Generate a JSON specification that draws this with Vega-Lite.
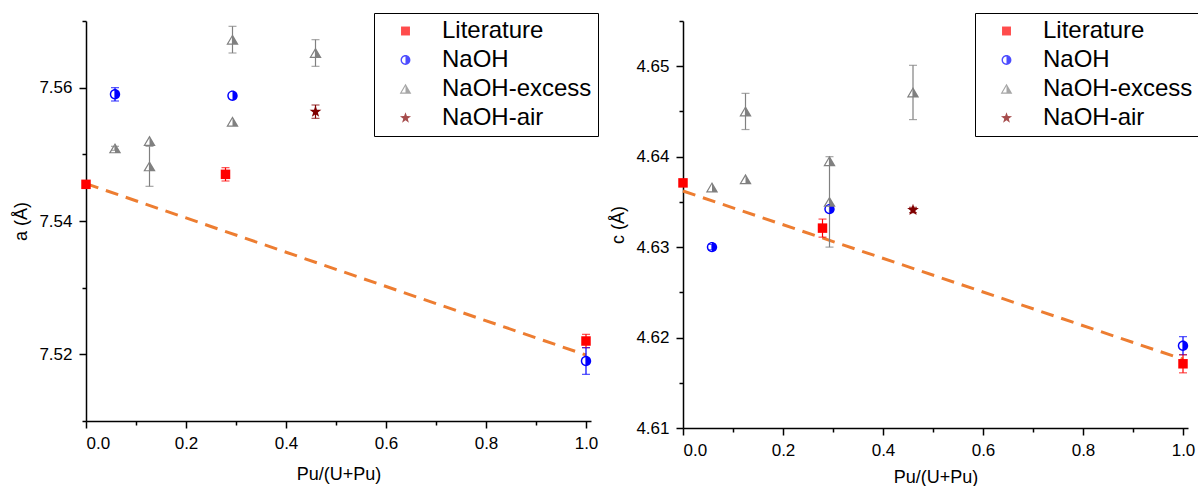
{
  "$schema": "https://vega.github.io/schema/vega-lite/v6.json",
  "padding": {"left": 12, "top": 12, "right": 0, "bottom": 0},
  "autosize": {"type": "pad"},
  "bounds": "flush",
  "spacing": 92,
  "background": "white",
  "config": {
    "view": {"stroke": null},
    "font": "Liberation Sans",
    "axis": {
      "domainColor": "black", "tickColor": "black", "domainWidth": 1.5, "tickWidth": 1.5,
      "labelColor": "black", "titleColor": "black", "labelFont": "Liberation Sans", "titleFont": "Liberation Sans",
      "labelFontSize": 17, "titleFontSize": 18, "titleFontWeight": "normal", "grid": false,
      "labelPadding": 7, "titlePadding": 8
    },
    "axisX": {"titlePadding": 14},
    "legend": {
      "strokeColor": "black", "strokeWidth": 1, "padding": 6, "fillColor": "white",
      "labelFont": "Liberation Sans", "labelFontSize": 24, "labelColor": "black",
      "symbolSize": 80, "symbolStrokeWidth": 0, "rowPadding": 5, "symbolOffset": 13.5, "labelOffset": 24.5
    }
  },
  "datasets": {
    "a": [
      {"series": "Literature", "x": 0, "y": 7.5455, "err": 0},
      {"series": "Literature", "x": 0.279, "y": 7.547, "err": 0.001},
      {"series": "Literature", "x": 1.0, "y": 7.522, "err": 0.001},
      {"series": "NaOH", "x": 0.058, "y": 7.559, "err": 0.001},
      {"series": "NaOH", "x": 0.293, "y": 7.5588, "err": 0},
      {"series": "NaOH", "x": 1.0, "y": 7.519, "err": 0.002},
      {"series": "NaOH-excess", "x": 0.058, "y": 7.5509, "err": 0.0003},
      {"series": "NaOH-excess", "x": 0.127, "y": 7.552, "err": 0},
      {"series": "NaOH-excess", "x": 0.127, "y": 7.5482, "err": 0.003},
      {"series": "NaOH-excess", "x": 0.293, "y": 7.5672, "err": 0.002},
      {"series": "NaOH-excess", "x": 0.293, "y": 7.5549, "err": 0},
      {"series": "NaOH-excess", "x": 0.459, "y": 7.5652, "err": 0.002},
      {"series": "NaOH-air", "x": 0.459, "y": 7.5564, "err": 0.001}
    ],
    "c": [
      {"series": "Literature", "x": 0, "y": 4.6371, "err": 0},
      {"series": "Literature", "x": 0.279, "y": 4.6321, "err": 0.001},
      {"series": "Literature", "x": 1.0, "y": 4.6171, "err": 0.001},
      {"series": "NaOH", "x": 0.058, "y": 4.630, "err": 0.0003},
      {"series": "NaOH", "x": 0.293, "y": 4.6342, "err": 0},
      {"series": "NaOH", "x": 1.0, "y": 4.6191, "err": 0.001},
      {"series": "NaOH-excess", "x": 0.058, "y": 4.6366, "err": 0},
      {"series": "NaOH-excess", "x": 0.125, "y": 4.6375, "err": 0},
      {"series": "NaOH-excess", "x": 0.125, "y": 4.645, "err": 0.002},
      {"series": "NaOH-excess", "x": 0.293, "y": 4.6395, "err": 0},
      {"series": "NaOH-excess", "x": 0.293, "y": 4.635, "err": 0.005},
      {"series": "NaOH-excess", "x": 0.46, "y": 4.6471, "err": 0.003},
      {"series": "NaOH-air", "x": 0.46, "y": 4.6341, "err": 0.0003}
    ],
    "fit_a": [{"x": 0, "y": 7.5456}, {"x": 1, "y": 7.5199}],
    "fit_c": [{"x": 0, "y": 4.6362}, {"x": 1, "y": 4.6176}]
  },
  "hconcat": [
    {
      "width": 505, "height": 400,
      "encoding": {
        "x": {"field": "x", "type": "quantitative", "scale": {"domain": [0, 1.01], "nice": false, "zero": false},
          "axis": {"title": "Pu/(U+Pu)", "values": [0, 0.1, 0.2, 0.3, 0.4, 0.5, 0.6, 0.7, 0.8, 0.9, 1.0],
            "labelExpr": "round(datum.value*10)%2==0 ? format(datum.value,'.1f') : ''",
            "tickSize": {"condition": {"test": "round(datum.value*10)%2==0", "value": 7}, "value": 4}}},
        "y": {"field": "y", "type": "quantitative", "scale": {"domain": [7.51, 7.57], "nice": false, "zero": false},
          "axis": {"title": "a (Å)", "values": [7.51, 7.52, 7.53, 7.54, 7.55, 7.56, 7.57],
            "labelExpr": "round(datum.value*100)%2==0 ? format(datum.value,'.2f') : ''",
            "tickSize": {"condition": {"test": "round(datum.value*100)%2==0", "value": 7}, "value": 4}}}
      },
      "layer": [
        {
          "data": {"name": "fit_a"},
          "mark": {"type": "line", "color": "#ED7D31", "strokeWidth": 3, "strokeDash": [13, 8]}
        },
        {
          "data": {"name": "a"},
          "transform": [{"filter": "datum.err > 0"}],
          "mark": {"type": "errorbar", "ticks": true, "size": 8, "thickness": 1.2},
          "encoding": {
            "yError": {"field": "err"},
            "color": {"field": "series", "type": "nominal"}
          }
        },
        {
          "data": {"name": "a"},
          "mark": {"type": "point", "filled": true, "size": 90, "opacity": 1},
          "encoding": {
            "color": {"field": "series", "type": "nominal",
              "scale": {"domain": ["Literature", "NaOH", "NaOH-excess", "NaOH-air"], "range": ["#FF0000", "#0000FF", "#808080", "#800000"]},
              "legend": {"title": null, "orient": "none", "legendX": 288, "legendY": -8}},
            "shape": {"field": "series", "type": "nominal",
              "scale": {"domain": ["Literature", "NaOH", "NaOH-excess", "NaOH-air"], "range": ["square", "M0,-1.1A1.1,1.1,0,0,1,0,1.1A1.1,1.1,0,0,1,0,-1.1ZM0,-0.8A0.8,0.8,0,0,0,0,0.8Z", "M0,-1.15L1.3,1.05L-1.3,1.05ZM0,-0.65L-0.86,0.8L0,0.8Z", "M0,-1.3L0.306,-0.421L1.236,-0.402L0.494,0.161L0.764,1.052L0,0.52L-0.764,1.052L-0.494,0.161L-1.236,-0.402L-0.306,-0.421Z"]},
              "legend": {"title": null, "orient": "none", "legendX": 288, "legendY": -8}}
          }
        }
      ]
    },
    {
      "width": 505, "height": 407,
      "encoding": {
        "x": {"field": "x", "type": "quantitative", "scale": {"domain": [0, 1.01], "nice": false, "zero": false},
          "axis": {"title": "Pu/(U+Pu)", "titlePadding": 10, "values": [0, 0.1, 0.2, 0.3, 0.4, 0.5, 0.6, 0.7, 0.8, 0.9, 1.0],
            "labelExpr": "round(datum.value*10)%2==0 ? format(datum.value,'.1f') : ''",
            "tickSize": {"condition": {"test": "round(datum.value*10)%2==0", "value": 7}, "value": 4}}},
        "y": {"field": "y", "type": "quantitative", "scale": {"domain": [4.61, 4.655], "nice": false, "zero": false},
          "axis": {"title": "c (Å)", "values": [4.61, 4.615, 4.62, 4.625, 4.63, 4.635, 4.64, 4.645, 4.65, 4.655],
            "labelExpr": "round(datum.value*1000)%10==0 ? format(datum.value,'.2f') : ''",
            "tickSize": {"condition": {"test": "round(datum.value*1000)%10==0", "value": 7}, "value": 4}}}
      },
      "layer": [
        {
          "data": {"name": "fit_c"},
          "mark": {"type": "line", "color": "#ED7D31", "strokeWidth": 3, "strokeDash": [13, 8]}
        },
        {
          "data": {"name": "c"},
          "transform": [{"filter": "datum.err > 0"}],
          "mark": {"type": "errorbar", "ticks": true, "size": 8, "thickness": 1.2},
          "encoding": {
            "yError": {"field": "err"},
            "color": {"field": "series", "type": "nominal"}
          }
        },
        {
          "data": {"name": "c"},
          "mark": {"type": "point", "filled": true, "size": 90, "opacity": 1},
          "encoding": {
            "color": {"field": "series", "type": "nominal",
              "scale": {"domain": ["Literature", "NaOH", "NaOH-excess", "NaOH-air"], "range": ["#FF0000", "#0000FF", "#808080", "#800000"]},
              "legend": {"title": null, "orient": "none", "legendX": 292, "legendY": -8}},
            "shape": {"field": "series", "type": "nominal",
              "scale": {"domain": ["Literature", "NaOH", "NaOH-excess", "NaOH-air"], "range": ["square", "M0,-1.1A1.1,1.1,0,0,1,0,1.1A1.1,1.1,0,0,1,0,-1.1ZM0,-0.8A0.8,0.8,0,0,0,0,0.8Z", "M0,-1.15L1.3,1.05L-1.3,1.05ZM0,-0.65L-0.86,0.8L0,0.8Z", "M0,-1.3L0.306,-0.421L1.236,-0.402L0.494,0.161L0.764,1.052L0,0.52L-0.764,1.052L-0.494,0.161L-1.236,-0.402L-0.306,-0.421Z"]},
              "legend": {"title": null, "orient": "none", "legendX": 292, "legendY": -8}}
          }
        }
      ]
    }
  ],
  "resolve": {
    "scale": {"x": "independent", "y": "independent", "color": "independent", "shape": "independent"},
    "legend": {"color": "independent", "shape": "independent"}
  }
}
